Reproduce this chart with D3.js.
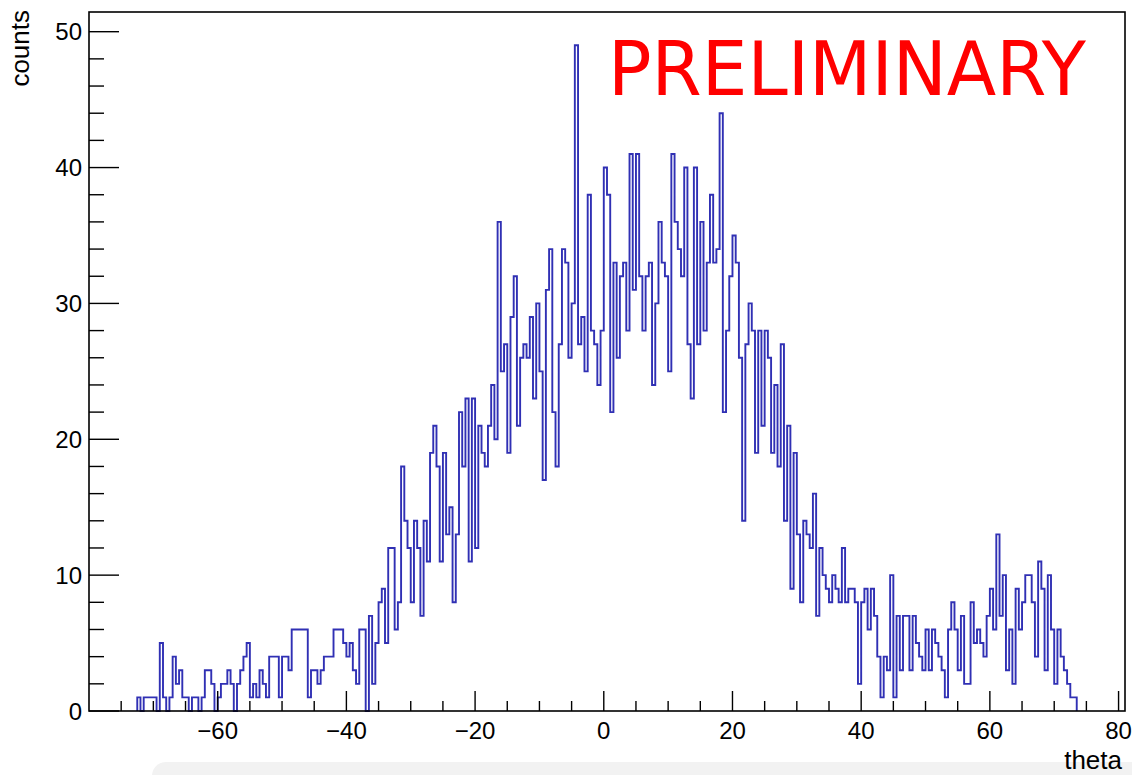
<!DOCTYPE html>
<html>
<head>
<meta charset="utf-8">
<script src="https://cdn.jsdelivr.net/npm/d3@7"></script>
<style>
  html, body { margin: 0; padding: 0; background: #ffffff; }
  svg { display: block; }
</style>
</head>
<body>
<svg id="chart" width="1132" height="775"></svg>
<script>
// ---------------- data ----------------
const binStart = -72.5;     // left edge of first filled bin (theta)
const binWidth = 0.5;       // theta per bin
const counts = [
  1,0,1,1,1,1,0,5,1,0,1,4,2,3,1,1,0,1,1,0,1,3,3,2,0,1,2,2,3,2,0,2,3,4,
  5,1,2,1,3,2,1,4,4,4, 1,4,4,3,6,6,6,6,6,1, 3,3,2,3,4,4,4,6,6,6, 5,4,5,3,2,6,6,0,
  7,2,5,8,9,5,12,12,6,8,18,
  14,12,8,14,12,7,14,11,19,21,18,11,19,13,15,8,13,22,18,23,11,23,12,21,19,18,21,
  24,20,36,25,27,19,29,32,21,26,27,26,29,23,30,25,17,
  31,34,22,18,27,34,33,26,30,
  49,
  27,29,25,38,28,27,24,28,40,38,
  22,33,26,32,33,28,41,31,41,32,28,32,33,24,30,36,33,32,25,41,36,34,32,40,27,23,40,27,36,28,33,38,33,34,44,
  22,
  28,32,35,33,26,14,27,30,28,19,28,21,28,26,19,24,18,27,14,21,9,19,13,8,14,13,12,16,7,12,10,9,8,10,9,8,12,8,9,
  9,8,2,8,9,6,9,7,4,1,4,3,
  10,
  1,7,3,7,7,3,7,5,4,3,6,3,6,5,4,3,1,6,8,6,3,7,
  2,2,8,5,6,5,4,7,9,6,13,7,10,3,6,2,9,6,8,10,10,8,4,11,9,3,10,6,2,6,4,3,2,1,1
];
const xDomain = [-80, 81];
const yDomain = [0, 51.45];
const xMajorTicks = [-60, -40, -20, 0, 20, 40, 60, 80];
const xMinorStep = 5;
const yMajorTicks = [0, 10, 20, 30, 40, 50];
const yMinorStep = 2;
const xTitle = "theta";
const yTitle = "counts";
const stampText = "PRELIMINARY";

// ---------------- layout ----------------
const frame = { left: 89, right: 1125, top: 12, bottom: 711 };
const svg = d3.select("#chart");

const x = d3.scaleLinear().domain(xDomain).range([frame.left, frame.right]);
const y = d3.scaleLinear().domain(yDomain).range([frame.bottom, frame.top]);

// screenshot artefact band at the bottom
svg.append("rect")
  .attr("x", 152).attr("y", 762).attr("width", 1000).attr("height", 40)
  .attr("rx", 14).attr("fill", "#f2f2f2");

// plot area
svg.append("rect")
  .attr("x", frame.left).attr("y", frame.top)
  .attr("width", frame.right - frame.left).attr("height", frame.bottom - frame.top)
  .attr("fill", "#ffffff");

// histogram outline
const pts = [];
const n = counts.length;
pts.push([binStart, 0]);
counts.forEach((c, i) => {
  const lo = binStart + i * binWidth;
  pts.push([lo, c]);
  pts.push([lo + binWidth, c]);
});
pts.push([binStart + n * binWidth, 0]);

const line = d3.line().x(d => x(d[0])).y(d => y(d[1]));
svg.append("path")
  .attr("d", line(pts))
  .attr("fill", "none")
  .attr("stroke", "#3030b4")
  .attr("stroke-width", 1.9)
  .attr("stroke-linejoin", "miter");

// ---------------- axes (ROOT style, ticks inside) ----------------
const axisColor = "#000000";
const g = svg.append("g");

const xMinor = d3.range(-75, 81, xMinorStep).filter(v => !xMajorTicks.includes(v) && v >= xDomain[0] && v <= xDomain[1]);
g.selectAll(".xminor").data(xMinor).enter().append("line")
  .attr("x1", d => x(d)).attr("x2", d => x(d))
  .attr("y1", frame.bottom).attr("y2", frame.bottom - 10)
  .attr("stroke", axisColor).attr("stroke-width", 1.4);
g.selectAll(".xmajor").data(xMajorTicks).enter().append("line")
  .attr("x1", d => x(d)).attr("x2", d => x(d))
  .attr("y1", frame.bottom).attr("y2", frame.bottom - 20)
  .attr("stroke", axisColor).attr("stroke-width", 1.4);

const yMinor = d3.range(0, 51, yMinorStep).filter(v => !yMajorTicks.includes(v));
g.selectAll(".yminor").data(yMinor).enter().append("line")
  .attr("x1", frame.left).attr("x2", frame.left + 15)
  .attr("y1", d => y(d)).attr("y2", d => y(d))
  .attr("stroke", axisColor).attr("stroke-width", 1.4);
g.selectAll(".ymajor").data(yMajorTicks).enter().append("line")
  .attr("x1", frame.left).attr("x2", frame.left + 30)
  .attr("y1", d => y(d)).attr("y2", d => y(d))
  .attr("stroke", axisColor).attr("stroke-width", 1.4);

// frame
svg.append("rect")
  .attr("x", frame.left).attr("y", frame.top)
  .attr("width", frame.right - frame.left).attr("height", frame.bottom - frame.top)
  .attr("fill", "none").attr("stroke", axisColor).attr("stroke-width", 1.6);

// tick labels
const fmt = v => (v < 0 ? "\u2212" + Math.abs(v) : String(v));
const font = "Liberation Sans, Arial, Helvetica, sans-serif";
svg.selectAll(".xlab").data(xMajorTicks).enter().append("text")
  .attr("x", d => x(d)).attr("y", 739)
  .attr("text-anchor", "middle")
  .attr("font-family", font)
  .attr("font-size", 24).attr("fill", "#000")
  .text(fmt);

svg.selectAll(".ylab").data(yMajorTicks).enter().append("text")
  .attr("x", 82).attr("y", d => y(d) + 8.5)
  .attr("text-anchor", "end")
  .attr("font-family", font)
  .attr("font-size", 24).attr("fill", "#000")
  .text(fmt);

// axis titles
svg.append("text")
  .attr("x", 1122).attr("y", 769)
  .attr("text-anchor", "end")
  .attr("font-family", font)
  .attr("font-size", 26).attr("fill", "#000")
  .text(xTitle);

svg.append("text")
  .attr("transform", "translate(29,10) rotate(-90)")
  .attr("text-anchor", "end")
  .attr("font-family", font)
  .attr("font-size", 26).attr("fill", "#000")
  .text(yTitle);

// stamp
svg.append("text")
  .attr("x", 608).attr("y", 95)
  .attr("font-family", "DejaVu Sans, sans-serif")
  .attr("font-size", 74)
  .attr("textLength", 478)
  .attr("lengthAdjust", "spacingAndGlyphs")
  .attr("fill", "#ff0000")
  .text(stampText);
</script>
</body>
</html>
